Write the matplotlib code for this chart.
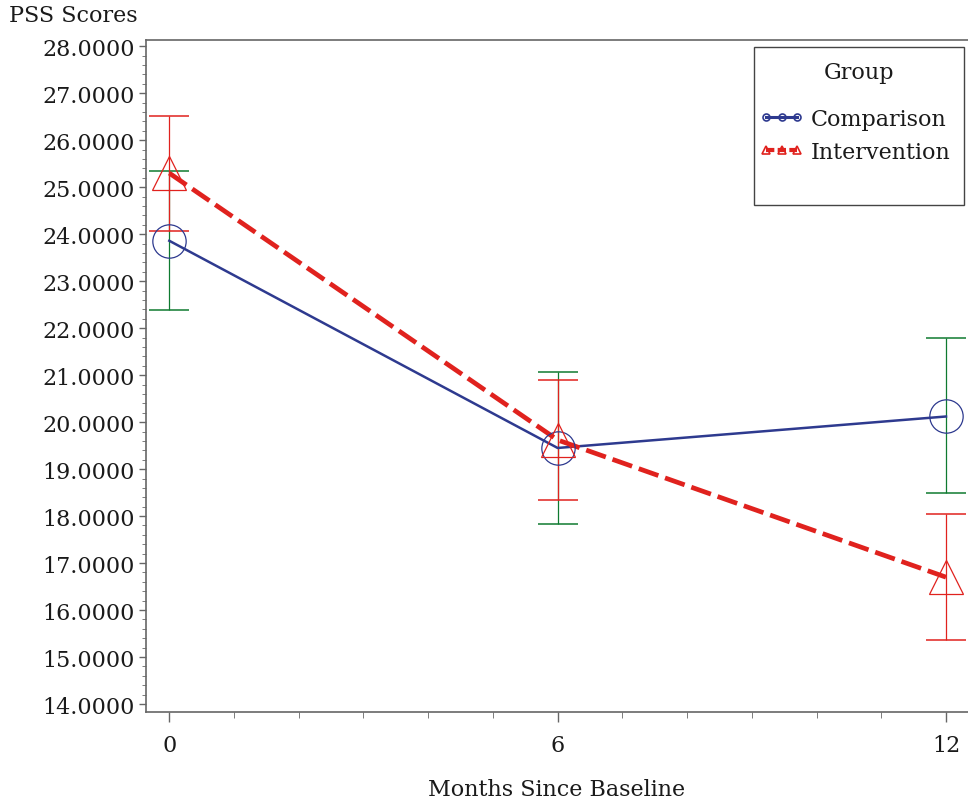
import matplotlib.pyplot as plt
from matplotlib.lines import Line2D
from matplotlib.patches import Rectangle
from matplotlib.ticker import MultipleLocator, FormatStrFormatter

plt.rcParams['font.family'] = ['DejaVu Serif']

# Dados
months = [0, 6, 12]
comp_mean = [23.86, 19.45, 20.12]
comp_lower = [22.39, 17.84, 18.49]
comp_upper = [25.35, 21.06, 21.78]
int_mean = [25.30, 19.62, 16.70]
int_lower = [24.07, 18.35, 15.36]
int_upper = [26.52, 20.89, 18.05]
groups = ['Comparison', 'Intervention']

blue = '#2e3a8f'
red = '#e0221e'
green = '#0f7a30'
axis_col = '#666666'
text_col = '#1a1a1a'
fs = 16

fig = plt.figure(figsize=(9.68, 8.03), dpi=100)
ax = fig.add_axes([146 / 968, 1 - 713 / 803, 1 - 146 / 968, (713 - 40.7) / 803])

# barras de erro
comp_err = [[m - l for m, l in zip(comp_mean, comp_lower)],
            [u - m for m, u in zip(comp_mean, comp_upper)]]
int_err = [[m - l for m, l in zip(int_mean, int_lower)],
           [u - m for m, u in zip(int_mean, int_upper)]]
ax.errorbar(months, comp_mean, yerr=comp_err, fmt='none', ecolor=green,
            elinewidth=0.9, capsize=14.4, capthick=1.1, zorder=2)
ax.errorbar(months, int_mean, yerr=int_err, fmt='none', ecolor=red,
            elinewidth=0.9, capsize=14.4, capthick=1.1, zorder=2)

# linhas e marcadores
ax.plot(months, comp_mean, color=blue, lw=1.8, zorder=3)
ax.plot(months, int_mean, color=red, lw=3.4, linestyle=(0, (4.4, 1.5)), zorder=3)
ax.plot(months, comp_mean, linestyle='none', marker='o', ms=24, mfc='none',
        mec=blue, mew=0.9, zorder=4)
ax.plot(months, int_mean, linestyle='none', marker='^', ms=24, mfc='none',
        mec=red, mew=0.9, zorder=4)

ax.set_xlim(-0.36, 12.34)
ax.set_ylim(13.83, 28.14)
ax.set_xticks(months)
ax.xaxis.set_minor_locator(MultipleLocator(1))
ax.yaxis.set_major_locator(MultipleLocator(1))
ax.yaxis.set_minor_locator(MultipleLocator(0.2))
ax.yaxis.set_major_formatter(FormatStrFormatter('%.4f'))

ax.tick_params(axis='both', which='major', labelsize=fs, colors=axis_col,
               labelcolor=text_col, width=1)
ax.tick_params(axis='x', which='major', length=7, pad=9)
ax.tick_params(axis='x', which='minor', length=4, color=axis_col)
ax.tick_params(axis='y', which='major', length=5, pad=3)
ax.tick_params(axis='y', which='minor', length=3, color=axis_col)

for side in ['left', 'bottom', 'top']:
    ax.spines[side].set_color(axis_col)
    ax.spines[side].set_linewidth(1.2)
ax.spines['right'].set_visible(False)

ax.set_xlabel('Months Since Baseline', fontsize=fs, color=text_col, labelpad=16)
fig.text(9 / 968, 1 - 5 / 803, 'PSS Scores', fontsize=fs, color=text_col,
         ha='left', va='top')

# legenda
box = Rectangle((754 / 968, 1 - 205.7 / 803), 210 / 968, 158 / 803,
                transform=fig.transFigure, fill=False, edgecolor='#444444', lw=1)
fig.patches.append(box)
fig.text(859 / 968, 1 - 73 / 803, 'Group', fontsize=fs, color=text_col,
         ha='center', va='center')
handles = [
    Line2D([], [], color=blue, lw=2.2, marker='o', ms=5, mfc='none', mec=blue, mew=1.2),
    Line2D([], [], color=red, lw=3, linestyle=(0, (2, 0.8)), marker='^', ms=6,
           mfc='none', mec=red, mew=1.2),
]
leg = fig.legend(handles, groups, loc='upper left',
                 bbox_to_anchor=(744 / 968, 1 - 93 / 803), frameon=False,
                 fontsize=fs, numpoints=3, handlelength=2.0,
                 handletextpad=0.3, labelspacing=0.5, borderpad=0.2)
for t in leg.get_texts():
    t.set_color(text_col)

fig.savefig('out.png', dpi=100)
